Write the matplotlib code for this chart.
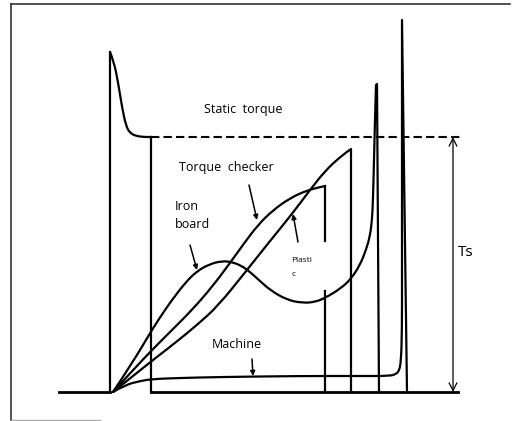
import numpy as np
import matplotlib.pyplot as plt
from matplotlib.path import Path
from matplotlib.patches import PathPatch

plt.rcParams['font.family'] = ['Open Sans', 'DejaVu Sans']

# time axis in px-like units, torque measured above the baseline (Ts = 255)
TS = 255

# start pulse (static torque): smooth decay after the peak
pulse_t = [110, 114, 118, 122, 126, 130, 136, 144, 151]
pulse_q = [340, 330, 310, 285, 266, 259, 256, 255, 255]

# iron board (smooth part), then the drop after the spike
iron_t = [113, 133, 153, 165, 172, 185, 197, 210, 222, 232, 242, 250, 260, 270, 287,
          303, 315, 325, 340, 351, 360, 366, 370, 372, 373, 374, 375, 376]
iron_q = [0, 30, 64, 82, 92, 109, 121, 128, 131, 130, 126, 120, 111, 102, 92,
          89, 90, 94, 103, 113, 127, 142, 156, 172, 192, 232, 272, 307]
iron_end_t = [377, 379]
iron_end_q = [308, 0]

# torque checker
check_t = [113, 133, 153, 172, 192, 212, 230, 245, 258, 272, 290, 308, 325]
check_q = [0, 22, 43, 62, 82, 105, 129, 150, 167, 181, 194, 202, 206]
check_drop_q = [206, 151, 101, 0]

# plastic
plas_t = [113, 133, 153, 175, 197, 218, 247, 270, 292, 310, 325, 340, 351]
plas_q = [0, 16, 32, 49, 67, 86, 122, 151, 178, 202, 221, 235, 243]

# machine
mach_t = [113, 125, 140, 153, 180, 220, 300, 360, 390, 396, 399, 401, 402, 402]
mach_q = [0, 7, 11, 13, 14, 15, 16, 16, 16, 18, 21, 30, 62, 120]
mach_end_t = [402, 407]
mach_end_q = [372, 0]


def smooth(ax, xs, ys, tail_x=(), tail_y=(), lw=1.6):
    pts = list(zip(xs, ys))
    verts = [pts[0]]
    codes = [Path.MOVETO]
    for i in range(1, len(pts) - 1):
        mid = ((pts[i][0] + pts[i + 1][0]) / 2, (pts[i][1] + pts[i + 1][1]) / 2)
        verts += [pts[i], mid]
        codes += [Path.CURVE3, Path.CURVE3]
    verts.append(pts[-1])
    codes.append(Path.LINETO)
    for p in zip(tail_x, tail_y):
        verts.append(p)
        codes.append(Path.LINETO)
    ax.add_patch(PathPatch(Path(verts, codes), fill=False, lw=lw, ec='black',
                           joinstyle='round', capstyle='round'))


fig = plt.figure(figsize=(5.12, 4.21), dpi=100)
ax = fig.add_axes([0, 0, 1, 1])
ax.set_xlim(0, 512)
ax.set_ylim(-29, 392)
ax.axis('off')

lw = 1.6
k = 'black'
ax.plot([59, 110], [0, 0], color=k, lw=2.0)
ax.plot([110, 110], [0, 340], color=k, lw=lw)
smooth(ax, pulse_t, pulse_q)
ax.plot([151, 151], [255, 0], color=k, lw=lw)
ax.plot([151, 458], [0, 0], color=k, lw=2.0)

smooth(ax, iron_t, iron_q, iron_end_t, iron_end_q)
smooth(ax, check_t, check_q)
ax.plot([325, 325], check_drop_q[:2], color=k, lw=lw)
ax.plot([325, 325], check_drop_q[2:], color=k, lw=lw)
smooth(ax, plas_t, plas_q, [351], [0])
smooth(ax, mach_t, mach_q, mach_end_t, mach_end_q)

# static torque level
ax.plot([151, 460], [TS, TS], color=k, lw=1.5, ls=(0, (4, 2)))

# Ts dimension arrow
ax.annotate('', xy=(453, TS), xytext=(453, 0),
            arrowprops=dict(arrowstyle='<->', color=k, lw=0.9,
                            mutation_scale=14, shrinkA=0, shrinkB=0))
ax.text(466, 392 - 253, 'Ts', fontsize=11, ha='center', va='center')

# labels with pointers
ap = dict(arrowstyle='-|>', color=k, lw=1.1, mutation_scale=7,
          shrinkA=0, shrinkB=0)
ax.annotate('', xy=(257, 392 - 220), xytext=(249, 392 - 185), arrowprops=ap)
ax.annotate('', xy=(197, 392 - 270), xytext=(190, 392 - 245), arrowprops=ap)
ax.annotate('', xy=(293, 392 - 214), xytext=(298, 392 - 242), arrowprops=ap)
ax.annotate('', xy=(253, 392 - 376), xytext=(252, 392 - 359), arrowprops=ap)

fs = 9
ax.text(243, 392 - 109, 'Static  torque', fontsize=fs, ha='center', va='center')
ax.text(226, 392 - 168, 'Torque  checker', fontsize=fs, ha='center', va='center')
ax.text(175, 392 - 206, 'Iron', fontsize=fs, ha='left', va='center')
ax.text(175, 392 - 224, 'board', fontsize=fs, ha='left', va='center')
ax.text(291, 392 - 261, 'Plasti', fontsize=6, ha='left', va='center')
ax.text(291, 392 - 274, 'c', fontsize=6, ha='left', va='center')
ax.text(237, 392 - 344, 'Machine', fontsize=fs, ha='center', va='center')

# frame
ax.plot([11, 510], [392 - 4, 392 - 4], color='#333333', lw=1.2)
ax.plot([11, 11], [392 - 4, 392 - 420], color='#333333', lw=1.2)
ax.plot([11, 100], [392 - 420, 392 - 420], color='#aaaaaa', lw=1.0)

fig.savefig('out.png', dpi=100)
